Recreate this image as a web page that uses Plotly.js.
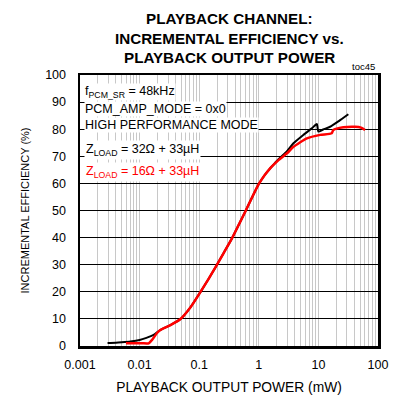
<!DOCTYPE html>
<html><head><meta charset="utf-8">
<script src="https://cdn.plot.ly/plotly-3.0.1.min.js"></script>
<style>html,body{margin:0;padding:0;background:#fff}#c{width:398px;height:396px}</style>
</head><body><div id="c"></div>
<script>
const blackX = [0.0029, 0.004, 0.005, 0.007, 0.01, 0.013, 0.0172, 0.0223, 0.0328, 0.048, 0.071, 0.104, 0.144, 0.186, 0.26, 0.354, 0.46, 0.593, 0.77, 0.99, 1.25, 1.5, 1.76, 2.14, 3.0, 3.81, 5.6, 7.74, 9.4, 10.0, 12, 15.7, 22, 31.8];
const blackY = [1.1, 1.2, 1.35, 1.65, 2.2, 3.0, 4.1, 5.9, 7.7, 9.85, 14.2, 19.8, 24.8, 28.9, 34.5, 39.7, 44.7, 49.6, 54.8, 59.6, 63.0, 65.2, 66.9, 68.9, 72.0, 74.8, 77.9, 80.3, 81.9, 79.1, 79.9, 80.9, 83.0, 85.5];
const redX = [0.0059, 0.008, 0.011, 0.0142, 0.0165, 0.0196, 0.0223, 0.0328, 0.048, 0.071, 0.104, 0.144, 0.186, 0.26, 0.354, 0.46, 0.593, 0.77, 0.99, 1.25, 1.5, 1.76, 2.14, 3.0, 3.81, 6.4, 10.7, 16.7, 17.8, 26.2, 41.2, 52, 60.6];
const redY = [1.0, 1.0, 1.0, 1.0, 2.5, 4.8, 5.9, 7.7, 9.85, 14.2, 19.8, 24.8, 28.9, 34.5, 39.7, 44.7, 49.6, 54.8, 59.6, 63.0, 65.2, 66.8, 68.6, 71.2, 73.5, 76.6, 77.9, 78.5, 79.7, 80.7, 80.9, 80.6, 79.7];
const xTickVals = [0.001, 0.01, 0.1, 1, 10, 100];
const xTickText = ['0.001', '0.01', '0.1', '1', '10', '100'];
const yTickVals = [0, 10, 20, 30, 40, 50, 60, 70, 80, 90, 100];
const titleLines = ['PLAYBACK CHANNEL:', 'INCREMENTAL EFFICIENCY vs.', 'PLAYBACK OUTPUT POWER'];
const xTitle = 'PLAYBACK OUTPUT POWER (mW)';
const yTitle = 'INCREMENTAL EFFICIENCY (%)';
const noteLines = ['f<sub>PCM_SR</sub> = 48kHz', 'PCM_AMP_MODE = 0x0', 'HIGH PERFORMANCE MODE'];
const seriesNames = ['Z<sub>LOAD</sub> = 32Ω + 33µH', 'Z<sub>LOAD</sub> = 16Ω + 33µH'];
const tocLabel = 'toc45';

const FONT = '"Liberation Sans", Arial, sans-serif';
const TOP = 75, H = 271;
const py = p => 1 + (TOP - p) / H;

const traces = [
  {x: blackX, y: blackY, mode: 'lines', line: {color: '#000', width: 2, shape: 'spline', smoothing: 0.6}, name: seriesNames[0]},
  {x: redX, y: redY, mode: 'lines', line: {color: '#ff0000', width: 2.5, shape: 'spline', smoothing: 0.6}, name: seriesNames[1]}
];

const annotations = [];
const titleY = [18.5, 38, 57];
titleLines.forEach((t, i) => annotations.push({
  text: '<b>' + t + '</b>', xref: 'paper', yref: 'paper', x: 0.5, y: py(titleY[i]),
  xanchor: 'center', yanchor: 'middle', showarrow: false,
  font: {family: FONT, size: 15.2, color: '#000'}
}));
const noteY = [92, 108.5, 125];
noteLines.forEach((t, i) => annotations.push({
  text: t, xref: 'paper', yref: 'paper', x: 0.013, y: py(noteY[i]),
  xanchor: 'left', yanchor: 'middle', showarrow: false, bgcolor: '#fff', borderpad: 0,
  font: {family: FONT, size: 12.5, color: '#000'}
}));
annotations.push({text: seriesNames[0], xref: 'paper', yref: 'paper', x: 0.013, y: py(150),
  xanchor: 'left', yanchor: 'middle', showarrow: false, bgcolor: '#fff', borderpad: 1,
  font: {family: FONT, size: 12.5, color: '#000'}});
annotations.push({text: seriesNames[1], xref: 'paper', yref: 'paper', x: 0.013, y: py(172),
  xanchor: 'left', yanchor: 'middle', showarrow: false, bgcolor: '#fff', borderpad: 1,
  font: {family: FONT, size: 12.5, color: '#ff0000'}});
annotations.push({text: tocLabel, xref: 'paper', yref: 'paper', x: 0.995, y: 1.003, xanchor: 'right', yanchor: 'bottom',
  showarrow: false, font: {family: FONT, size: 9.5, color: '#000'}});

const layout = {
  width: 398, height: 396,
  margin: {l: 80, r: 20, t: 75, b: 50},
  paper_bgcolor: '#fff', plot_bgcolor: '#fff',
  showlegend: false,
  font: {family: FONT, color: '#000', size: 12.5},
  xaxis: {type: 'log', range: [-3, 2], tickvals: xTickVals, ticktext: xTickText,
    showgrid: true, gridcolor: '#c8c8c8', gridwidth: 1,
    minor: {showgrid: true, gridcolor: '#c8c8c8', gridwidth: 1, dtick: 'D1'},
    showline: true, linecolor: '#000', linewidth: 2.5, mirror: true,
    ticks: 'outside', ticklen: 5, tickcolor: 'rgba(0,0,0,0)',
    tickfont: {family: FONT, size: 12.5},
    zeroline: false,
    title: {text: xTitle, font: {family: FONT, size: 13.8}, standoff: 12}},
  yaxis: {range: [0, 100], tickvals: yTickVals,
    showgrid: true, gridcolor: '#000', gridwidth: 1,
    showline: true, linecolor: '#000', linewidth: 2.5, mirror: true,
    ticks: 'outside', ticklen: 9, tickcolor: 'rgba(0,0,0,0)',
    tickfont: {family: FONT, size: 12.5},
    zeroline: false,
    title: {text: yTitle, font: {family: FONT, size: 11}, standoff: 14}},
  annotations: annotations
};

Plotly.newPlot('c', traces, layout, {displayModeBar: false, staticPlot: true});
</script></body></html>
